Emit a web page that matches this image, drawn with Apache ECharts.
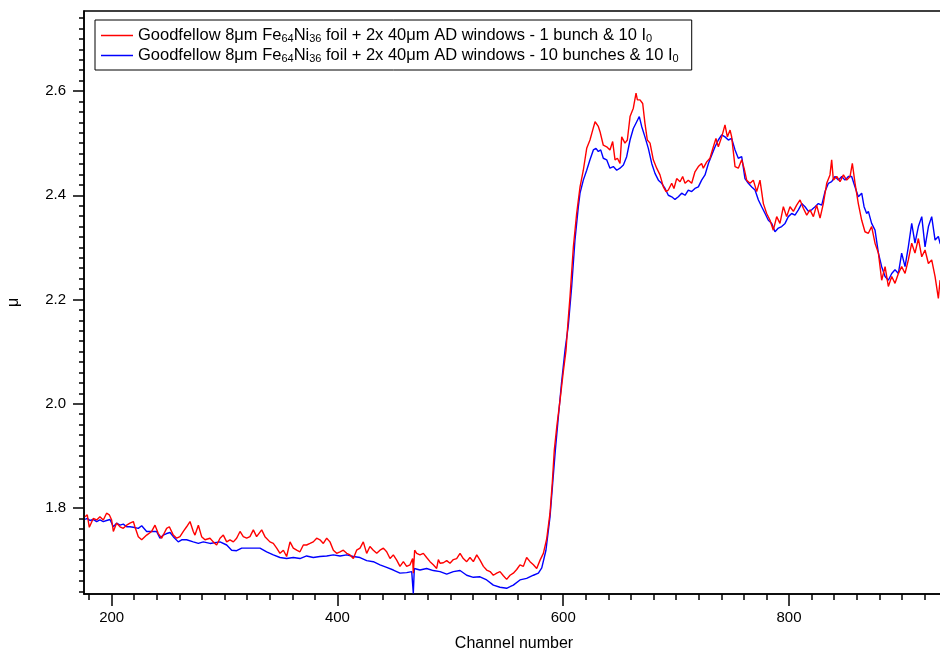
<!DOCTYPE html>
<html>
<head>
<meta charset="utf-8">
<title>μ vs channel number</title>
<script src="https://cdn.jsdelivr.net/npm/echarts@6.0.0/dist/echarts.min.js"></script>
<style>
  html, body { margin: 0; padding: 0; background: #fff; }
  #chart { width: 940px; height: 653px; }
</style>
</head>
<body>
<div id="chart"></div>
<script>
// Series names (plain) and their legend labels (rich text with subscripts)
const seriesNames = [
  'Goodfellow 8μm Fe64Ni36 foil + 2x 40μm AD windows - 1 bunch & 10 I0',
  'Goodfellow 8μm Fe64Ni36 foil + 2x 40μm AD windows - 10 bunches & 10 I0'
];
const legendLabels = [
  'Goodfellow 8μm Fe{sub|64}Ni{sub|36} foil + 2x 40μm AD windows - 1 bunch & 10 I{sub|0}',
  'Goodfellow 8μm Fe{sub|64}Ni{sub|36} foil + 2x 40μm AD windows - 10 bunches & 10 I{sub|0}'
];
const seriesColors = ['#ff0000', '#0000ff'];

// Axis ranges and tick positions
const xRange = [175.5, 937.3];
const yRange = [1.635, 2.7535];
const xMajorTicks = [200, 400, 600, 800];
const yMajorTicks = [1.8, 2.0, 2.2, 2.4, 2.6];
const xMinorStep = 20, xMinorFrom = 180, xMinorTo = 920;
const yMinorStep = 0.02, yMinorFrom = 1.64, yMinorTo = 2.74;

// [channel, μ] — 1 bunch & 10 I0
const oneBunch = [
  [176.5,1.783],[178.4,1.787],[180.2,1.763],[183.7,1.780],[186.7,1.777],[189.6,1.783],[192.6,1.777],[195.5,1.790],[197.9,1.787],[200.0,1.777],
  [201.5,1.755],[204.4,1.771],[207.4,1.764],[210.3,1.761],[213.3,1.767],[216.2,1.771],[219.2,1.774],[220.6,1.764],[223.6,1.745],[226.6,1.739],
  [231.0,1.748],[235.4,1.755],[238.4,1.767],[241.3,1.751],[244.3,1.742],[248.7,1.761],[251.1,1.764],[254.6,1.748],[257.6,1.742],[260.5,1.745],
  [263.5,1.755],[266.4,1.764],[269.4,1.774],[272.3,1.755],[273.8,1.748],[276.8,1.767],[279.7,1.745],[282.7,1.739],[287.1,1.742],[290.0,1.735],
  [293.0,1.729],[296.0,1.742],[298.9,1.748],[301.9,1.735],[304.8,1.739],[307.8,1.735],[310.7,1.742],[313.7,1.755],[316.6,1.745],[319.6,1.742],
  [322.5,1.745],[325.5,1.758],[328.4,1.745],[332.9,1.758],[335.8,1.745],[340.2,1.735],[343.2,1.732],[346.2,1.723],[349.1,1.713],[352.1,1.719],
  [355.0,1.707],[358.0,1.735],[360.9,1.723],[363.9,1.719],[366.8,1.716],[369.8,1.729],[372.7,1.729],[375.7,1.732],[378.6,1.735],[381.6,1.742],
  [384.5,1.739],[387.5,1.732],[390.5,1.742],[393.4,1.735],[396.4,1.719],[399.3,1.713],[402.3,1.716],[405.2,1.719],[408.2,1.713],[411.1,1.710],
  [414.1,1.703],[417.0,1.719],[420.0,1.723],[422.9,1.735],[425.9,1.713],[428.8,1.726],[431.8,1.719],[434.8,1.713],[437.7,1.719],[440.7,1.723],
  [443.6,1.716],[446.6,1.703],[449.5,1.710],[452.5,1.700],[455.4,1.688],[458.4,1.697],[461.3,1.688],[464.3,1.691],[466.6,1.703],[467.2,1.675],
  [468.4,1.719],[470.2,1.713],[473.1,1.710],[476.1,1.713],[479.0,1.705],[482.0,1.697],[484.9,1.691],[487.9,1.684],[489.4,1.701],[490.9,1.694],
  [493.8,1.695],[496.8,1.699],[499.7,1.694],[502.7,1.701],[505.6,1.703],[508.6,1.713],[511.5,1.703],[514.5,1.697],[517.4,1.705],[520.4,1.697],
  [523.4,1.710],[526.3,1.700],[529.3,1.688],[532.2,1.681],[535.2,1.678],[538.1,1.671],[541.1,1.675],[544.0,1.678],[547.0,1.670],[549.9,1.663],
  [552.9,1.671],[555.8,1.675],[558.8,1.682],[561.7,1.691],[564.7,1.688],[567.6,1.705],[570.6,1.697],[573.6,1.691],[576.5,1.684],[579.5,1.700],
  [582.4,1.713],[585.3,1.740],[588.3,1.790],[590.3,1.848],[592.1,1.911],[594.5,1.960],[597.2,2.007],[600.0,2.060],[602.5,2.103],[604.0,2.150],
  [606.0,2.205],[609.0,2.301],[611.9,2.365],[614.9,2.416],[617.8,2.448],[620.8,2.490],[623.7,2.506],[626.1,2.525],[628.2,2.541],[631.1,2.532],
  [632.6,2.522],[635.5,2.496],[638.5,2.493],[641.4,2.487],[643.8,2.503],[645.9,2.468],[648.0,2.471],[650.3,2.461],[651.8,2.512],[654.7,2.500],
  [656.8,2.506],[659.2,2.551],[662.1,2.567],[664.5,2.596],[665.7,2.583],[668.0,2.583],[670.4,2.576],[672.4,2.538],[674.5,2.506],[676.9,2.500],
  [679.8,2.468],[682.8,2.452],[685.7,2.439],[688.7,2.416],[691.1,2.407],[693.1,2.410],[696.1,2.423],[698.1,2.413],[700.5,2.432],[703.5,2.426],
  [705.8,2.436],[707.9,2.423],[710.8,2.429],[713.8,2.423],[716.7,2.445],[719.7,2.455],[722.6,2.461],[724.1,2.452],[727.1,2.464],[730.0,2.471],
  [733.0,2.493],[735.3,2.509],[737.4,2.493],[740.4,2.512],[743.3,2.535],[745.4,2.512],[747.8,2.525],[749.2,2.512],[752.2,2.455],[755.1,2.452],
  [758.1,2.468],[760.2,2.452],[762.5,2.429],[765.5,2.423],[768.4,2.429],[771.4,2.407],[774.3,2.429],[777.3,2.384],[780.2,2.365],[783.2,2.352],
  [786.1,2.333],[789.1,2.359],[792.0,2.346],[795.0,2.378],[797.9,2.359],[800.9,2.378],[803.9,2.369],[806.8,2.381],[809.8,2.391],[812.7,2.375],
  [815.7,2.362],[818.6,2.372],[821.6,2.359],[824.5,2.381],[827.5,2.356],[830.4,2.384],[833.4,2.423],[836.3,2.439],[837.8,2.468],[839.3,2.429],
  [842.3,2.436],[845.2,2.426],[848.2,2.439],[851.1,2.429],[854.1,2.436],[856.1,2.461],[858.5,2.423],[861.4,2.384],[864.4,2.352],[867.3,2.330],
  [870.3,2.327],[873.2,2.340],[876.2,2.308],[879.2,2.289],[882.1,2.237],[885.1,2.263],[888.0,2.225],[891.0,2.244],[893.9,2.231],[896.9,2.250],
  [899.8,2.263],[902.8,2.250],[905.7,2.276],[908.7,2.308],[911.6,2.289],[914.6,2.317],[917.6,2.282],[920.5,2.295],[923.5,2.269],[926.4,2.276],
  [929.4,2.244],[932.3,2.202],[933.8,2.237],[936.0,2.215]
];

// [channel, μ] — 10 bunches & 10 I0
const tenBunches = [
  [176.5,1.778],[178.4,1.780],[180.8,1.776],[183.7,1.778],[186.7,1.774],[189.6,1.777],[192.6,1.774],[195.5,1.776],[198.5,1.778],[201.5,1.764],
  [204.4,1.771],[207.4,1.767],[210.3,1.769],[213.3,1.764],[216.2,1.764],[219.2,1.763],[223.6,1.761],[226.6,1.766],[231.0,1.755],[235.4,1.755],
  [239.8,1.755],[242.8,1.742],[245.7,1.748],[248.7,1.751],[251.7,1.753],[254.6,1.745],[259.0,1.735],[262.0,1.739],[266.4,1.739],[272.3,1.735],
  [276.8,1.732],[281.2,1.735],[287.1,1.732],[293.0,1.734],[296.0,1.735],[301.9,1.729],[306.3,1.719],[310.7,1.718],[315.2,1.723],[319.6,1.723],
  [325.5,1.723],[331.4,1.723],[337.3,1.716],[343.2,1.710],[349.1,1.705],[355.0,1.703],[360.9,1.705],[366.8,1.703],[372.7,1.708],[378.6,1.705],
  [384.5,1.707],[390.5,1.708],[396.4,1.710],[402.3,1.708],[408.2,1.710],[414.1,1.707],[420.0,1.705],[425.9,1.699],[431.8,1.697],[437.7,1.691],
  [443.6,1.686],[449.5,1.681],[455.4,1.675],[461.3,1.676],[465.8,1.678],[467.2,1.636],[468.1,1.684],[473.1,1.681],[479.0,1.684],[484.9,1.680],
  [490.9,1.678],[496.8,1.673],[502.7,1.678],[508.6,1.680],[514.5,1.671],[520.4,1.667],[526.3,1.668],[532.2,1.662],[538.1,1.652],[544.0,1.648],
  [549.9,1.646],[552.9,1.649],[555.8,1.652],[561.7,1.662],[567.6,1.665],[573.6,1.671],[578.0,1.675],[581.0,1.685],[584.7,1.719],[588.3,1.783],
  [590.7,1.848],[593.0,1.910],[595.7,1.975],[598.5,2.040],[601.6,2.103],[604.5,2.150],[607.5,2.225],[610.4,2.314],[613.4,2.378],[614.9,2.404],
  [617.8,2.429],[620.8,2.448],[623.7,2.468],[626.7,2.487],[629.0,2.490],[631.1,2.484],[633.2,2.487],[635.5,2.471],[638.5,2.468],[641.4,2.452],
  [644.4,2.455],[647.4,2.448],[650.3,2.452],[653.3,2.458],[656.2,2.474],[659.2,2.506],[662.1,2.528],[665.1,2.541],[667.4,2.551],[669.5,2.532],
  [672.4,2.512],[675.4,2.490],[678.4,2.461],[681.3,2.442],[684.3,2.429],[687.2,2.423],[690.2,2.413],[693.1,2.400],[696.1,2.397],[699.0,2.392],
  [702.0,2.397],[704.9,2.404],[707.9,2.400],[710.8,2.410],[713.8,2.407],[716.7,2.413],[719.7,2.416],[722.6,2.429],[725.6,2.439],[728.6,2.461],
  [731.5,2.477],[734.5,2.493],[737.4,2.506],[740.4,2.516],[743.3,2.512],[746.3,2.506],[749.2,2.509],[752.2,2.487],[755.1,2.471],[758.1,2.474],
  [761.0,2.432],[764.0,2.423],[767.0,2.416],[769.9,2.410],[772.9,2.391],[775.8,2.378],[778.8,2.365],[781.7,2.352],[784.7,2.346],[787.6,2.330],
  [790.6,2.337],[793.5,2.340],[796.5,2.346],[799.4,2.359],[802.4,2.365],[805.3,2.362],[808.3,2.372],[811.3,2.384],[814.2,2.378],[817.2,2.369],
  [820.1,2.372],[823.1,2.378],[826.0,2.384],[829.0,2.381],[831.9,2.407],[834.9,2.423],[837.8,2.426],[840.8,2.436],[843.7,2.429],[846.7,2.436],
  [849.6,2.429],[852.6,2.436],[855.5,2.436],[858.5,2.416],[861.4,2.397],[864.4,2.404],[866.5,2.378],[868.8,2.365],[870.3,2.369],[873.2,2.346],
  [876.2,2.333],[879.2,2.289],[882.1,2.263],[885.1,2.244],[888.0,2.237],[891.0,2.250],[893.9,2.257],[896.9,2.250],[899.8,2.289],[902.8,2.263],
  [905.7,2.301],[908.7,2.346],[911.6,2.308],[914.6,2.340],[917.6,2.359],[920.5,2.301],[923.5,2.340],[926.4,2.359],[929.4,2.314],[932.3,2.321],
  [933.8,2.308],[936.0,2.300]
];

const FONT = '"Liberation Sans", Arial, Helvetica, sans-serif';

function stepValues(from, to, step, digits) {
  const out = [];
  const n = Math.round((to - from) / step);
  for (let i = 0; i <= n; i++) out.push(+(from + i * step).toFixed(digits));
  return out;
}
const xMinorTicks = stepValues(xMinorFrom, xMinorTo, xMinorStep, 0);
const yMinorTicks = stepValues(yMinorFrom, yMinorTo, yMinorStep, 2);

const black = { color: '#000', width: 1.5 };

const chart = echarts.init(document.getElementById('chart'), null, { renderer: 'canvas' });

chart.setOption({
  animation: false,
  backgroundColor: '#fff',
  grid: {
    left: 84, top: 11, width: 860, height: 583,
    outerBoundsMode: 'none', containLabel: false,
    show: true, borderColor: '#000', borderWidth: 1.5, backgroundColor: 'transparent'
  },
  legend: {
    orient: 'vertical',
    left: 95, top: 20,
    padding: [7, 13, 6, 6],
    itemGap: 3,
    icon: 'rect',
    itemWidth: 32, itemHeight: 1.5,
    borderColor: '#000', borderWidth: 1, borderRadius: 0,
    backgroundColor: '#fff',
    data: seriesNames,
    formatter: name => legendLabels[seriesNames.indexOf(name)],
    textStyle: {
      fontFamily: FONT, fontSize: 16.5, color: '#000', lineHeight: 17,
      rich: {
        sub: { fontFamily: FONT, fontSize: 11, color: '#000', verticalAlign: 'bottom', lineHeight: 11, padding: [5, 0, 0, 0] }
      }
    }
  },
  xAxis: [
    {
      type: 'value', position: 'bottom', min: xRange[0], max: xRange[1],
      axisLine: { show: true, onZero: false, lineStyle: black },
      axisTick: { show: true, inside: false, length: 12, customValues: xMajorTicks, lineStyle: black },
      axisLabel: { customValues: xMajorTicks, margin: 16, fontFamily: FONT, fontSize: 15, color: '#000' },
      splitLine: { show: false },
      name: 'Channel number', nameLocation: 'middle', nameGap: 42,
      nameTextStyle: { fontFamily: FONT, fontSize: 16, color: '#000' }
    },
    {
      type: 'value', position: 'bottom', min: xRange[0], max: xRange[1],
      axisLine: { show: false, onZero: false },
      axisTick: { show: true, inside: false, length: 6, customValues: xMinorTicks, lineStyle: black },
      axisLabel: { show: false },
      splitLine: { show: false }
    }
  ],
  yAxis: [
    {
      type: 'value', position: 'left', min: yRange[0], max: yRange[1],
      axisLine: { show: true, onZero: false, lineStyle: black },
      axisTick: { show: true, inside: false, length: 11, customValues: yMajorTicks, lineStyle: black },
      axisLabel: { customValues: yMajorTicks, margin: 18, fontFamily: FONT, fontSize: 15, color: '#000',
                   formatter: v => v.toFixed(1) },
      splitLine: { show: false },
      name: 'μ', nameLocation: 'middle', nameRotate: 90, nameGap: 62,
      nameTextStyle: { fontFamily: FONT, fontSize: 16, color: '#000' }
    },
    {
      type: 'value', position: 'left', min: yRange[0], max: yRange[1],
      axisLine: { show: false, onZero: false },
      axisTick: { show: true, inside: false, length: 5, customValues: yMinorTicks, lineStyle: black },
      axisLabel: { show: false },
      splitLine: { show: false }
    }
  ],
  series: [
    {
      name: seriesNames[0], type: 'line', data: oneBunch,
      xAxisIndex: 0, yAxisIndex: 0,
      symbol: 'none', showSymbol: false, z: 3,
      color: seriesColors[0],
      lineStyle: { color: seriesColors[0], width: 1.4 }
    },
    {
      name: seriesNames[1], type: 'line', data: tenBunches,
      xAxisIndex: 0, yAxisIndex: 0,
      symbol: 'none', showSymbol: false, z: 2,
      color: seriesColors[1],
      lineStyle: { color: seriesColors[1], width: 1.4 }
    }
  ]
});
</script>
</body>
</html>
